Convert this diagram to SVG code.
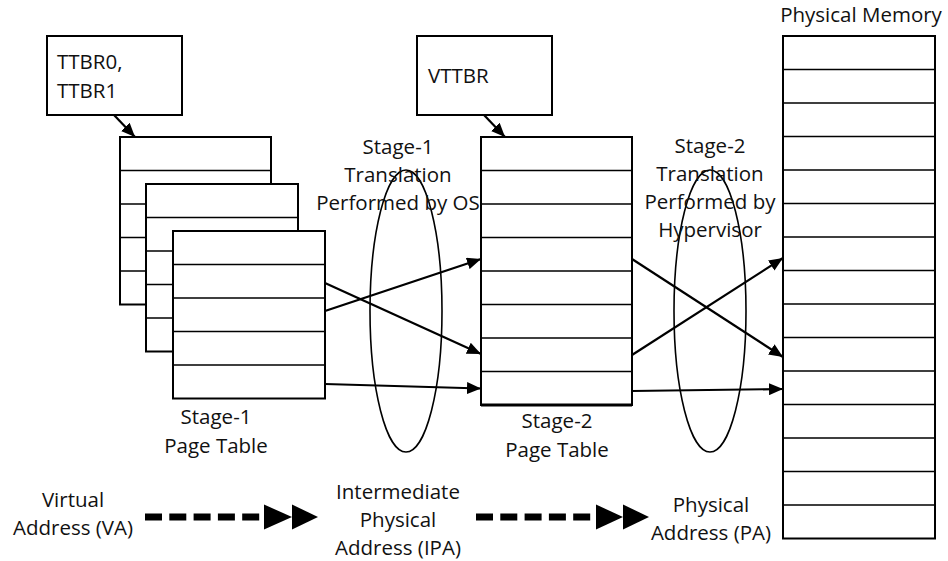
<svg xmlns="http://www.w3.org/2000/svg" width="948" height="561" viewBox="0 0 948 561">
<style>
.box{fill:#fff;stroke:#000;stroke-width:2}
.row{fill:none;stroke:#000;stroke-width:1.6}
.t{font-family:"Open Sans","Noto Sans",sans-serif;font-size:20.5px;fill:#111}
.c{text-anchor:middle}
.ell{fill:none;stroke:#000;stroke-width:1.6}
.conn{stroke:#000;stroke-width:2.2;fill:none}
.dash{stroke:#000;stroke-width:7;stroke-dasharray:17 7.3;fill:none}
.head{fill:#000}
</style>
<defs>
<marker id="ah" markerUnits="userSpaceOnUse" markerWidth="14" markerHeight="12" viewBox="0 0 14 12" refX="14" refY="6" orient="auto">
<path d="M0,0 L14,6 L0,12 Z" fill="#000"/>
</marker>
</defs>
<rect width="948" height="561" fill="#fff"/>

<g id="ttbr">
<rect class="box" x="47" y="36" width="135" height="79"/>
<text class="t" x="57" y="69">TTBR0,</text>
<text class="t" x="57" y="98">TTBR1</text>
</g>

<g id="vttbr">
<rect class="box" x="417" y="36" width="135" height="79"/>
<text class="t" x="428" y="83">VTTBR</text>
</g>

<g id="stage1-table-back">
<rect class="box" x="120" y="137" width="151" height="167.5"/>
<path class="row" d="M120 170.5H271M120 204H271M120 237.5H271M120 271H271"/>
</g>
<g id="stage1-table-mid">
<rect class="box" x="146" y="184" width="152" height="167.5"/>
<path class="row" d="M146 217.5H298M146 251H298M146 284.5H298M146 318H298"/>
</g>
<g id="stage1-table-front">
<rect class="box" x="173" y="231" width="152" height="167.5"/>
<path class="row" d="M173 264.5H325M173 298H325M173 331.5H325M173 365H325"/>
</g>
<g id="stage1-label">
<text class="t c" x="216" y="424">Stage-1</text>
<text class="t c" x="216" y="453">Page Table</text>
</g>

<g id="stage2-table">
<rect class="box" x="481" y="137" width="151" height="268"/>
<path class="row" d="M481 170.5H632M481 204H632M481 237.5H632M481 271H632M481 304.5H632M481 338H632M481 371.5H632"/>
<path d="M481 405H632" stroke="#000" stroke-width="3.2"/>
</g>
<g id="stage2-label">
<text class="t c" x="557" y="428">Stage-2</text>
<text class="t c" x="557" y="457">Page Table</text>
</g>

<g id="physical-memory">
<text class="t c" x="861" y="22">Physical Memory</text>
<rect class="box" x="783" y="36" width="152" height="502.5"/>
<path class="row" d="M783 69.5H935M783 103H935M783 136.5H935M783 170H935M783 203.5H935M783 237H935M783 270.5H935M783 304H935M783 337.5H935M783 371H935M783 404.5H935M783 438H935M783 471.5H935M783 505H935"/>
</g>

<g id="stage1-translation">
<ellipse class="ell" cx="406" cy="311" rx="36" ry="141"/>
<text class="t c" x="398" y="154">Stage-1</text>
<text class="t c" x="398" y="182">Translation</text>
<text class="t c" x="398" y="210">Performed by OS</text>
</g>

<g id="stage2-translation">
<ellipse class="ell" cx="710" cy="311" rx="36" ry="141"/>
<text class="t c" x="710" y="153">Stage-2</text>
<text class="t c" x="710" y="181">Translation</text>
<text class="t c" x="710" y="209">Performed by</text>
<text class="t c" x="710" y="237">Hypervisor</text>
</g>

<g id="va">
<text class="t c" x="73" y="507">Virtual</text>
<text class="t c" x="73" y="535">Address (VA)</text>
</g>
<g id="ipa">
<text class="t c" x="398" y="499">Intermediate</text>
<text class="t c" x="398" y="527">Physical</text>
<text class="t c" x="398" y="555">Address (IPA)</text>
</g>
<g id="pa">
<text class="t c" x="711" y="512">Physical</text>
<text class="t c" x="711" y="540">Address (PA)</text>
</g>

<g id="connectors">
<line class="conn" x1="114" y1="115" x2="135" y2="137" marker-end="url(#ah)"/>
<line class="conn" x1="484" y1="115" x2="505" y2="137" marker-end="url(#ah)"/>
<line class="conn" x1="325" y1="283" x2="481" y2="354" marker-end="url(#ah)"/>
<line class="conn" x1="325" y1="311" x2="481" y2="259" marker-end="url(#ah)"/>
<line class="conn" x1="325" y1="384" x2="481" y2="388.5" marker-end="url(#ah)"/>
<line class="conn" x1="632" y1="259" x2="783" y2="357" marker-end="url(#ah)"/>
<line class="conn" x1="632" y1="355" x2="783" y2="258" marker-end="url(#ah)"/>
<line class="conn" x1="632" y1="391" x2="783" y2="389" marker-end="url(#ah)"/>
<path class="dash" d="M145 517H268"/>
<polygon class="head" points="264,504.5 292,517 264,529.5"/>
<polygon class="head" points="292,504.5 318,517 292,529.5"/>
<path class="dash" d="M476 517H599"/>
<polygon class="head" points="596,504.5 623,517 596,529.5"/>
<polygon class="head" points="623,504.5 649,517 623,529.5"/>
</g>
</svg>
